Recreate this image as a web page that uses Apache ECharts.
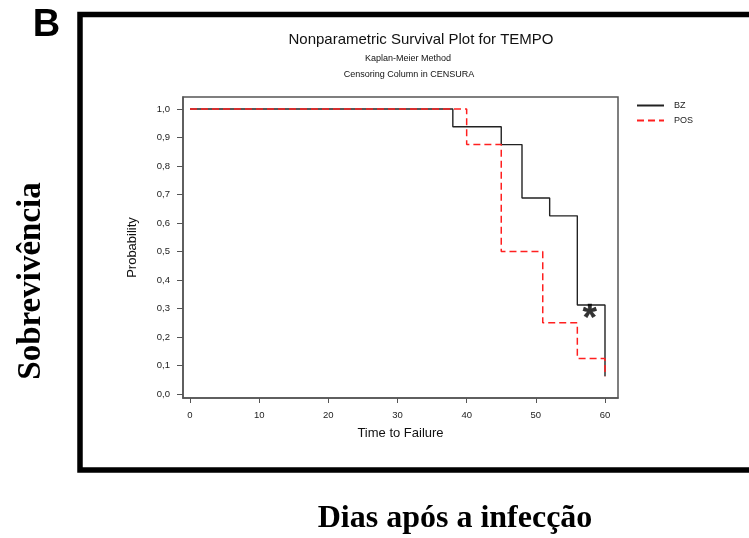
<!DOCTYPE html>
<html>
<head>
<meta charset="utf-8">
<script src="https://cdn.jsdelivr.net/npm/echarts@6/dist/echarts.min.js"></script>
<style>html,body{margin:0;padding:0;background:#fff}#c{width:749px;height:538px}</style>
</head>
<body>
<div id="c"></div>
<script>
const bzTimes = [0, 38, 45, 48, 52, 56, 60];
const bzSurv  = [1.0, 0.9375, 0.875, 0.6875, 0.625, 0.3125, 0.0625];
const posTimes = [0, 40, 45, 51, 56, 60];
const posSurv  = [1.0, 0.875, 0.5, 0.25, 0.125, 0.0625];
const xTicks = [0, 10, 20, 30, 40, 50, 60];
const yTicks = [0, 0.1, 0.2, 0.3, 0.4, 0.5, 0.6, 0.7, 0.8, 0.9, 1.0];
const asterisk = [57.8, 0.258];

const chart = echarts.init(document.getElementById('c'), null, {renderer: 'canvas'});
const sans = "'Liberation Sans', Arial, sans-serif";
const axisColor = '#555';

chart.setOption({
  animation: false,
  backgroundColor: '#fff',
  title: [
    {text: 'Nonparametric Survival Plot for TEMPO', left: 416, top: 27, textAlign: 'center',
     textStyle: {fontFamily: sans, fontSize: 15, fontWeight: 'normal', color: '#111'}},
    {text: 'Kaplan-Meier Method', left: 403, top: 49, textAlign: 'center',
     textStyle: {fontFamily: sans, fontSize: 9, fontWeight: 'normal', color: '#111'}},
    {text: 'Censoring Column in CENSURA', left: 404, top: 65, textAlign: 'center',
     textStyle: {fontFamily: sans, fontSize: 9, fontWeight: 'normal', color: '#111'}}
  ],
  legend: {
    orient: 'vertical', left: 636, top: 101, padding: 0, itemWidth: 27, itemHeight: 10, itemGap: 6,
    textStyle: {fontFamily: sans, fontSize: 9, color: '#222', padding: [0, 0, 0, 5]},
    data: [
      {name: 'BZ', itemStyle: {opacity: 0}},
      {name: 'POS', itemStyle: {opacity: 0}}
    ]
  },
  grid: {left: 183, top: 97, width: 435, height: 301, show: true,
         borderColor: axisColor, borderWidth: 1.5, backgroundColor: '#fff'},
  xAxis: {
    type: 'value', min: -1.012, max: 61.88,
    name: 'Time to Failure', nameLocation: 'middle', nameGap: 29,
    nameTextStyle: {fontFamily: sans, fontSize: 13, color: '#111'},
    axisLine: {show: true, onZero: false, lineStyle: {color: axisColor, width: 1.5}},
    axisTick: {show: true, inside: false, customValues: xTicks, length: 5, lineStyle: {color: axisColor, width: 1}},
    axisLabel: {customValues: xTicks, margin: 12, fontFamily: sans, fontSize: 9.5, color: '#222'},
    splitLine: {show: false}
  },
  yAxis: {
    type: 'value', min: -0.014, max: 1.042,
    name: 'Probability', nameLocation: 'middle', nameGap: 44, nameRotate: 90,
    nameTextStyle: {fontFamily: sans, fontSize: 13, color: '#111'},
    axisLine: {show: true, onZero: false, lineStyle: {color: axisColor, width: 1.5}},
    axisTick: {show: true, inside: false, customValues: yTicks, length: 6, lineStyle: {color: axisColor, width: 1}},
    axisLabel: {customValues: yTicks, margin: 13, fontFamily: sans, fontSize: 9.5, color: '#222',
      formatter: v => v.toFixed(1).replace('.', ',')},
    splitLine: {show: false}
  },
  series: [
    {name: 'BZ', type: 'line', step: 'end', symbol: 'none',
     data: bzTimes.map((t, i) => [t, bzSurv[i]]),
     lineStyle: {color: '#222', width: 1.4, type: 'solid'}, itemStyle: {color: '#222'}, z: 2},
    {name: 'POS', type: 'line', step: 'end', symbol: 'none',
     data: posTimes.map((t, i) => [t, posSurv[i]]),
     lineStyle: {color: '#ff2020', width: 1.5, type: [7, 4]}, itemStyle: {color: '#ff2020'}, z: 3},
    {name: 'mark', type: 'scatter', symbol: 'circle', symbolSize: 2, data: [asterisk], silent: true,
     itemStyle: {color: 'rgba(0,0,0,0)'},
     label: {show: true, formatter: '*', position: 'inside', fontFamily: sans, fontWeight: 'bold',
             fontSize: 36, color: '#000', textBorderColor: '#000', textBorderWidth: 0.4}, z: 5}
  ],
  graphic: [
    {type: 'rect', shape: {x: 80, y: 14.5, width: 720, height: 455.5},
     style: {fill: 'none', stroke: '#000', lineWidth: 5.5}, silent: true},
    {type: 'text', x: 46.5, y: 26, style: {text: 'B', font: "bold 38px 'Liberation Sans', Arial, sans-serif",
     fill: '#000', textAlign: 'center', textVerticalAlign: 'middle'}},
    {type: 'text', x: 31, y: 281, rotation: Math.PI / 2,
     style: {text: 'Sobrevivência', font: "bold 33px 'Liberation Serif', 'Times New Roman', serif",
     fill: '#000', textAlign: 'center', textVerticalAlign: 'middle'}},
    {type: 'text', x: 455, y: 518.5,
     style: {text: 'Dias após a infecção', font: "bold 32px 'Liberation Serif', 'Times New Roman', serif",
     fill: '#000', textAlign: 'center', textVerticalAlign: 'middle'}}
  ]
});
</script>
</body>
</html>
